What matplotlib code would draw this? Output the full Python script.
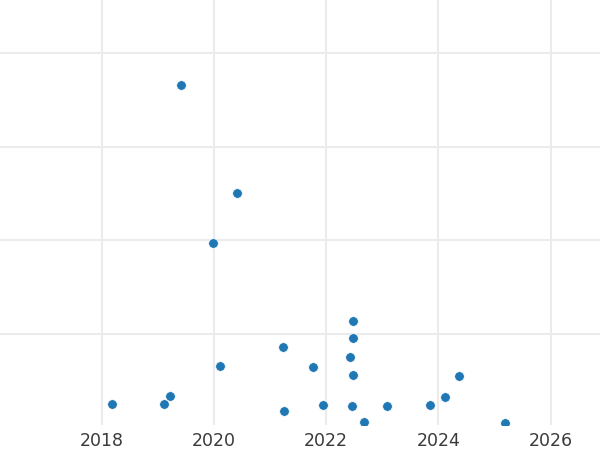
import matplotlib.pyplot as plt

# ============================
# Data
# ============================
years = [2019.42, 2020.41, 2019.99, 2022.48, 2022.48, 2021.24, 2022.43, 2020.11,
         2021.77, 2022.48, 2024.37, 2019.21, 2019.11, 2018.19, 2024.11, 2021.95,
         2022.47, 2023.09, 2023.85, 2021.25, 2022.68, 2025.18]
values = [73.2, 50.1, 39.4, 22.8, 19.1, 17.2, 15.1, 13.3,
          13.0, 11.3, 11.0, 6.8, 5.2, 5.2, 6.5, 4.8,
          4.6, 4.6, 4.8, 3.7, 1.3, 1.1]

x_ticks = [2018, 2020, 2022, 2024, 2026]
y_grid = [20, 40, 60, 80]

# ============================
# Plot
# ============================
fig = plt.figure(figsize=(6, 4.5), dpi=100)
ax = fig.add_axes([0, 0.055, 1, 0.945])

ax.scatter(years, values, s=48, color="#1f77b4", edgecolor="white",
           linewidth=0.5, zorder=3)

ax.set_xlim(2016.19, 2026.88)
ax.set_ylim(0.57, 91.3)
ax.set_xticks(x_ticks)
ax.set_yticks(y_grid)
ax.set_yticklabels([])
ax.tick_params(axis="both", length=0, labelsize=12.5, labelcolor="#3a3a3a", pad=5)
ax.grid(True, color="#ebebeb", linewidth=1.5, zorder=0)
ax.set_axisbelow(True)
for side in ax.spines.values():
    side.set_visible(False)

fig.savefig("out.png", dpi=100)
